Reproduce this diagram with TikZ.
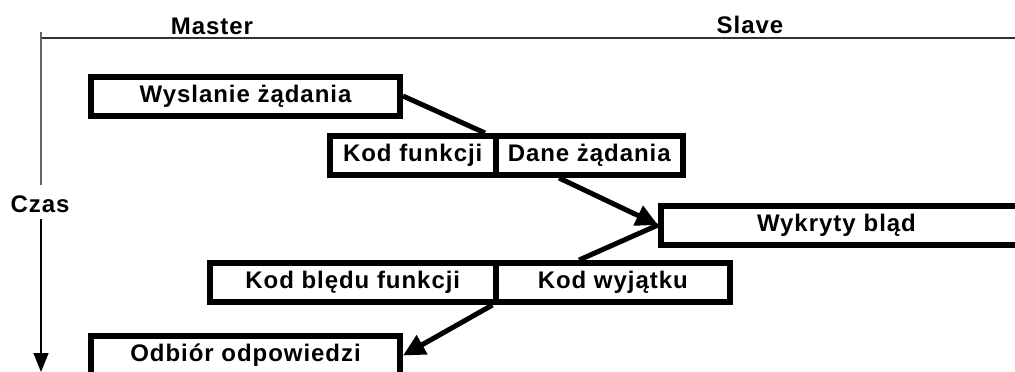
\documentclass[tikz,border=0pt]{standalone}
\usepackage{fontspec}
\setmainfont{Liberation Sans}[LetterSpace=4]
\usetikzlibrary{arrows.meta,calc}

\begin{document}
\begin{tikzpicture}[x=1pt,y=-1pt,
  lbl/.style={font=\fontsize{24}{28}\selectfont\bfseries, inner sep=0pt},
  frame/.style={lbl, draw, line width=6pt, rectangle, minimum height=39pt},
  link/.style={line width=5pt},
  flow/.style={link, -{Triangle[length=22pt,width=21pt]}},
  axis/.style={black!60, line width=1.5pt}]

\path[use as bounding box, clip] (0,0) rectangle (1015,372);

% time axis and header line
\coordinate (axtop) at (41,32);
\coordinate (axbreak1) at (41,185);
\coordinate (axbreak2) at (41,219);
\coordinate (axend) at (41,372);
\coordinate (hleft) at (41,38);
\coordinate (hright) at (1015,38);
\draw[axis, black!80] (hleft) -- (hright);
\draw[axis] (axtop) -- (axbreak1);
\draw[axis, -{Triangle[length=19pt,width=15pt]}, black] (axbreak2) -- (axend);

\node[lbl] (master) at (212,26) {Master};
\node[lbl] (slave)  at (750,25) {Slave};
\node[lbl] (czas)   at (40,204) {Czas};

% frames
\node[frame, minimum width=309pt]   (wys) at (245.5,96)   {Wyslanie żądania};
\node[frame, minimum width=165.5pt] (kf)  at (412.75,155.5) {Kod funkcji};
\node[frame, minimum width=187.5pt] (dz)  at (589.25,155.5) {Dane żądania};
\node[frame, minimum width=359pt, text width=359pt, align=left] (wyk) at (840.5,225)
  {\hspace*{96pt}Wykryty bląd};
\node[frame, minimum width=285.5pt] (kb)  at (352.75,282.5) {Kod blędu funkcji};
\node[frame, minimum width=234.5pt] (kw)  at (612.75,282.5) {Kod wyjątku};
\node[frame, minimum width=309pt]   (odb) at (245.5,355.5) {Odbiór odpowiedzi};

% connectors
\draw[link] (wys.east) -- ($(kf.north east)+(-13.5,0)$);
\draw[flow] ($(dz.south west)!0.344!(dz.south east)$) -- (wyk.west);
\draw[link] (wyk.west) -- ($(kw.north west)!0.36!(kw.north east)$);
\draw[flow] (kw.south west) -- (odb.east);
\end{tikzpicture}
\end{document}
